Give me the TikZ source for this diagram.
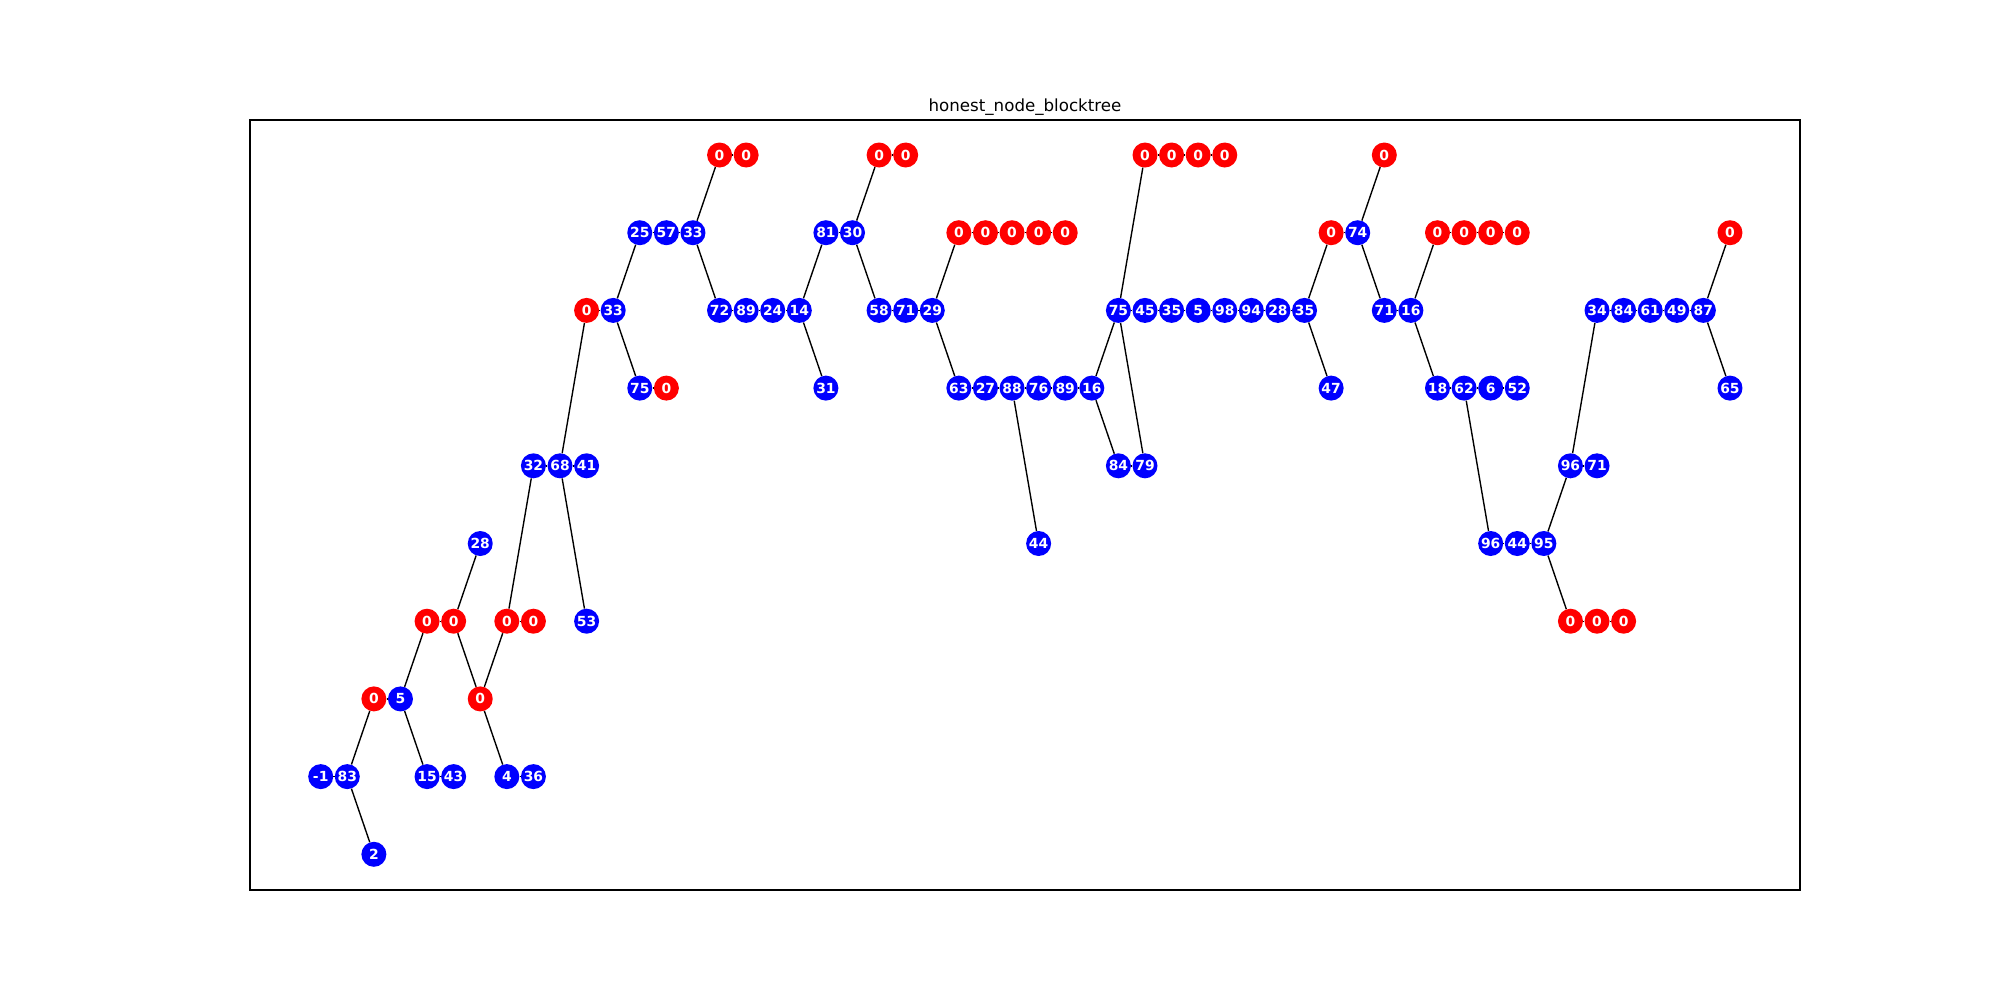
\documentclass[tikz,border=0pt]{standalone}
\usepackage{fontspec}
\setmainfont{DejaVu Sans}

\begin{document}
\begin{tikzpicture}[x=19.145pt,y=-55.944pt,
  block/.style={shape=circle,inner sep=0pt,minimum size=18pt,text=white,font=\fontsize{10}{12}\selectfont\bfseries},
  honest/.style={block,fill=blue},
  zero/.style={block,fill=red},
  link/.style={line width=1pt,black}]
\useasboundingbox (-12.061,-1.995) rectangle (63.155,10.875);
\draw[line width=0.8pt] (-2.659,-0.4505) rectangle (55.634,9.459);
\node (title) at (26.487,-0.557) [anchor=base,font=\fontsize{12}{14}\selectfont]{honest\_node\_blocktree};

% row 0
\node (r0c15) at (15,0) [zero]{0};
\node (r0c16) at (16,0) [zero]{0};
\node (r0c21) at (21,0) [zero]{0};
\node (r0c22) at (22,0) [zero]{0};
\node (r0c31) at (31,0) [zero]{0};
\node (r0c32) at (32,0) [zero]{0};
\node (r0c33) at (33,0) [zero]{0};
\node (r0c34) at (34,0) [zero]{0};
\node (r0c40) at (40,0) [zero]{0};
% row 1
\node (r1c12) at (12,1) [honest]{25};
\node (r1c13) at (13,1) [honest]{57};
\node (r1c14) at (14,1) [honest]{33};
\node (r1c19) at (19,1) [honest]{81};
\node (r1c20) at (20,1) [honest]{30};
\node (r1c24) at (24,1) [zero]{0};
\node (r1c25) at (25,1) [zero]{0};
\node (r1c26) at (26,1) [zero]{0};
\node (r1c27) at (27,1) [zero]{0};
\node (r1c28) at (28,1) [zero]{0};
\node (r1c38) at (38,1) [zero]{0};
\node (r1c39) at (39,1) [honest]{74};
\node (r1c42) at (42,1) [zero]{0};
\node (r1c43) at (43,1) [zero]{0};
\node (r1c44) at (44,1) [zero]{0};
\node (r1c45) at (45,1) [zero]{0};
\node (r1c53) at (53,1) [zero]{0};
% row 2
\node (r2c10) at (10,2) [zero]{0};
\node (r2c11) at (11,2) [honest]{33};
\node (r2c15) at (15,2) [honest]{72};
\node (r2c16) at (16,2) [honest]{89};
\node (r2c17) at (17,2) [honest]{24};
\node (r2c18) at (18,2) [honest]{14};
\node (r2c21) at (21,2) [honest]{58};
\node (r2c22) at (22,2) [honest]{71};
\node (r2c23) at (23,2) [honest]{29};
\node (r2c30) at (30,2) [honest]{75};
\node (r2c31) at (31,2) [honest]{45};
\node (r2c32) at (32,2) [honest]{35};
\node (r2c33) at (33,2) [honest]{5};
\node (r2c34) at (34,2) [honest]{98};
\node (r2c35) at (35,2) [honest]{94};
\node (r2c36) at (36,2) [honest]{28};
\node (r2c37) at (37,2) [honest]{35};
\node (r2c40) at (40,2) [honest]{71};
\node (r2c41) at (41,2) [honest]{16};
\node (r2c48) at (48,2) [honest]{34};
\node (r2c49) at (49,2) [honest]{84};
\node (r2c50) at (50,2) [honest]{61};
\node (r2c51) at (51,2) [honest]{49};
\node (r2c52) at (52,2) [honest]{87};
% row 3
\node (r3c12) at (12,3) [honest]{75};
\node (r3c13) at (13,3) [zero]{0};
\node (r3c19) at (19,3) [honest]{31};
\node (r3c24) at (24,3) [honest]{63};
\node (r3c25) at (25,3) [honest]{27};
\node (r3c26) at (26,3) [honest]{88};
\node (r3c27) at (27,3) [honest]{76};
\node (r3c28) at (28,3) [honest]{89};
\node (r3c29) at (29,3) [honest]{16};
\node (r3c38) at (38,3) [honest]{47};
\node (r3c42) at (42,3) [honest]{18};
\node (r3c43) at (43,3) [honest]{62};
\node (r3c44) at (44,3) [honest]{6};
\node (r3c45) at (45,3) [honest]{52};
\node (r3c53) at (53,3) [honest]{65};
% row 4
\node (r4c8) at (8,4) [honest]{32};
\node (r4c9) at (9,4) [honest]{68};
\node (r4c10) at (10,4) [honest]{41};
\node (r4c30) at (30,4) [honest]{84};
\node (r4c31) at (31,4) [honest]{79};
\node (r4c47) at (47,4) [honest]{96};
\node (r4c48) at (48,4) [honest]{71};
% row 5
\node (r5c6) at (6,5) [honest]{28};
\node (r5c27) at (27,5) [honest]{44};
\node (r5c44) at (44,5) [honest]{96};
\node (r5c45) at (45,5) [honest]{44};
\node (r5c46) at (46,5) [honest]{95};
% row 6
\node (r6c4) at (4,6) [zero]{0};
\node (r6c5) at (5,6) [zero]{0};
\node (r6c7) at (7,6) [zero]{0};
\node (r6c8) at (8,6) [zero]{0};
\node (r6c10) at (10,6) [honest]{53};
\node (r6c47) at (47,6) [zero]{0};
\node (r6c48) at (48,6) [zero]{0};
\node (r6c49) at (49,6) [zero]{0};
% row 7
\node (r7c2) at (2,7) [zero]{0};
\node (r7c3) at (3,7) [honest]{5};
\node (r7c6) at (6,7) [zero]{0};
% row 8
\node (r8c0) at (0,8) [honest]{-1};
\node (r8c1) at (1,8) [honest]{83};
\node (r8c4) at (4,8) [honest]{15};
\node (r8c5) at (5,8) [honest]{43};
\node (r8c7) at (7,8) [honest]{4};
\node (r8c8) at (8,8) [honest]{36};
% row 9
\node (r9c2) at (2,9) [honest]{2};

% chains in a row
\draw[link] (r0c15) -- (r0c16);
\draw[link] (r0c21) -- (r0c22);
\draw[link] (r0c31) -- (r0c32) -- (r0c33) -- (r0c34);
\draw[link] (r1c12) -- (r1c13) -- (r1c14);
\draw[link] (r1c19) -- (r1c20);
\draw[link] (r1c24) -- (r1c25) -- (r1c26) -- (r1c27) -- (r1c28);
\draw[link] (r1c38) -- (r1c39);
\draw[link] (r1c42) -- (r1c43) -- (r1c44) -- (r1c45);
\draw[link] (r2c10) -- (r2c11);
\draw[link] (r2c15) -- (r2c16) -- (r2c17) -- (r2c18);
\draw[link] (r2c21) -- (r2c22) -- (r2c23);
\draw[link] (r2c30) -- (r2c31) -- (r2c32) -- (r2c33) -- (r2c34) -- (r2c35) -- (r2c36) -- (r2c37);
\draw[link] (r2c40) -- (r2c41);
\draw[link] (r2c48) -- (r2c49) -- (r2c50) -- (r2c51) -- (r2c52);
\draw[link] (r3c12) -- (r3c13);
\draw[link] (r3c24) -- (r3c25) -- (r3c26) -- (r3c27) -- (r3c28) -- (r3c29);
\draw[link] (r3c42) -- (r3c43) -- (r3c44) -- (r3c45);
\draw[link] (r4c8) -- (r4c9) -- (r4c10);
\draw[link] (r4c30) -- (r4c31);
\draw[link] (r4c47) -- (r4c48);
\draw[link] (r5c44) -- (r5c45) -- (r5c46);
\draw[link] (r6c4) -- (r6c5);
\draw[link] (r6c7) -- (r6c8);
\draw[link] (r6c47) -- (r6c48) -- (r6c49);
\draw[link] (r7c2) -- (r7c3);
\draw[link] (r8c0) -- (r8c1);
\draw[link] (r8c4) -- (r8c5);
\draw[link] (r8c7) -- (r8c8);

% links between rows
\draw[link] (r4c9) -- (r2c10);
\draw[link] (r4c8) -- (r6c7);
\draw[link] (r4c9) -- (r6c10);
\draw[link] (r5c6) -- (r6c5);
\draw[link] (r6c4) -- (r7c3);
\draw[link] (r6c5) -- (r7c6);
\draw[link] (r6c7) -- (r7c6);
\draw[link] (r7c2) -- (r8c1);
\draw[link] (r7c3) -- (r8c4);
\draw[link] (r7c6) -- (r8c7);
\draw[link] (r8c1) -- (r9c2);
\draw[link] (r2c11) -- (r1c12);
\draw[link] (r2c11) -- (r3c12);
\draw[link] (r1c14) -- (r0c15);
\draw[link] (r1c14) -- (r2c15);
\draw[link] (r2c18) -- (r1c19);
\draw[link] (r2c18) -- (r3c19);
\draw[link] (r1c20) -- (r0c21);
\draw[link] (r1c20) -- (r2c21);
\draw[link] (r2c23) -- (r1c24);
\draw[link] (r2c23) -- (r3c24);
\draw[link] (r3c26) -- (r5c27);
\draw[link] (r3c29) -- (r2c30);
\draw[link] (r3c29) -- (r4c30);
\draw[link] (r2c30) -- (r0c31);
\draw[link] (r2c30) -- (r4c31);
\draw[link] (r2c37) -- (r1c38);
\draw[link] (r2c37) -- (r3c38);
\draw[link] (r1c39) -- (r0c40);
\draw[link] (r1c39) -- (r2c40);
\draw[link] (r2c41) -- (r1c42);
\draw[link] (r2c41) -- (r3c42);
\draw[link] (r3c43) -- (r5c44);
\draw[link] (r5c46) -- (r4c47);
\draw[link] (r5c46) -- (r6c47);
\draw[link] (r4c47) -- (r2c48);
\draw[link] (r2c52) -- (r1c53);
\draw[link] (r2c52) -- (r3c53);
\end{tikzpicture}
\end{document}
